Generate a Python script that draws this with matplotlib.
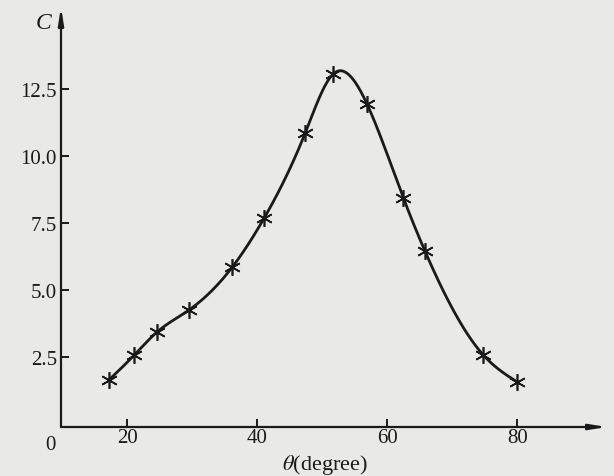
import numpy as np
import matplotlib.pyplot as plt

theta = [17.2, 21.1, 24.6, 29.5, 36.2, 41.1, 47.4, 51.7, 56.9, 62.5, 65.8, 74.8, 80.0]
c_val = [1.64, 2.57, 3.43, 4.25, 5.86, 7.69, 10.86, 13.06, 11.94, 8.43, 6.46, 2.57, 1.57]

x_ticks = [20, 40, 60, 80]
y_ticks = [2.5, 5.0, 7.5, 10.0, 12.5]
y_tick_labels = ["2.5", "5.0", "7.5", "10.0", "12.5"]


def natural_spline(x, y, xs):
    # plain natural cubic spline through the measured points
    x = np.asarray(x, float)
    y = np.asarray(y, float)
    n = len(x)
    h = np.diff(x)
    A = np.zeros((n, n))
    b = np.zeros(n)
    A[0, 0] = 1
    A[-1, -1] = 1
    for i in range(1, n - 1):
        A[i, i - 1] = h[i - 1]
        A[i, i] = 2 * (h[i - 1] + h[i])
        A[i, i + 1] = h[i]
        b[i] = 6 * ((y[i + 1] - y[i]) / h[i] - (y[i] - y[i - 1]) / h[i - 1])
    m = np.linalg.solve(A, b)
    idx = np.clip(np.searchsorted(x, xs) - 1, 0, n - 2)
    t0 = x[idx]
    t1 = x[idx + 1]
    hh = t1 - t0
    a = (t1 - xs) / hh
    bb = (xs - t0) / hh
    return (a * y[idx] + bb * y[idx + 1]
            + ((a ** 3 - a) * m[idx] + (bb ** 3 - bb) * m[idx + 1]) * hh ** 2 / 6)


bg = "#e9e9e7"
ink = "#1a1a1a"
plt.rcParams['font.family'] = ['Liberation Serif', 'DejaVu Serif']
plt.rcParams['mathtext.fontset'] = 'stix'

fig = plt.figure(figsize=(6.14, 4.77), dpi=100, facecolor=bg)
ax = fig.add_axes([61 / 614, (477 - 428) / 477, (607 - 61) / 614, (428 - 8) / 477])
ax.set_facecolor(bg)
xmin, xmax = 9.85, 93.8
ymin, ymax = -0.11, 15.56
ax.set_xlim(xmin, xmax)
ax.set_ylim(ymin, ymax)

xs = np.linspace(theta[0], theta[-1], 400)
ax.plot(xs, natural_spline(theta, c_val, xs), color=ink, lw=2.0, zorder=3)
ax.plot(theta, c_val, ls="none", marker=(6, 2, 0), ms=12, mew=1.2, color=ink, zorder=4)

for s in ax.spines.values():
    s.set_visible(False)

# axes with arrow heads
arrow = dict(arrowstyle="-|>,head_length=1.0,head_width=0.16", color=ink, lw=1.6,
             shrinkA=0, shrinkB=0)
ax.annotate("", xy=(xmax, ymin), xytext=(xmin, ymin), arrowprops=arrow, annotation_clip=False)
ax.annotate("", xy=(xmin, ymax), xytext=(xmin, ymin), arrowprops=arrow, annotation_clip=False)

ax.set_xticks(x_ticks)
ax.set_xticklabels([str(v) for v in x_ticks])
ax.set_yticks(y_ticks)
ax.set_yticklabels(y_tick_labels)
ax.tick_params(direction="in", length=6, width=1.4, color=ink, labelsize=15,
               labelcolor=ink, pad=1)
ax.tick_params(axis="y", pad=3)

ax.text(xmin - 0.9, ymin - 0.3, "0", ha="right", va="top", fontsize=15, color=ink)
ax.text(xmin - 1.4, ymax - 0.2, "C", ha="right", va="top", fontsize=17,
        style="italic", color=ink)
ax.text(50.5, ymin - 0.95, r"$\theta$(degree)", ha="center", va="top",
        fontsize=16, color=ink)

fig.savefig("out.png", dpi=100, facecolor=bg)
